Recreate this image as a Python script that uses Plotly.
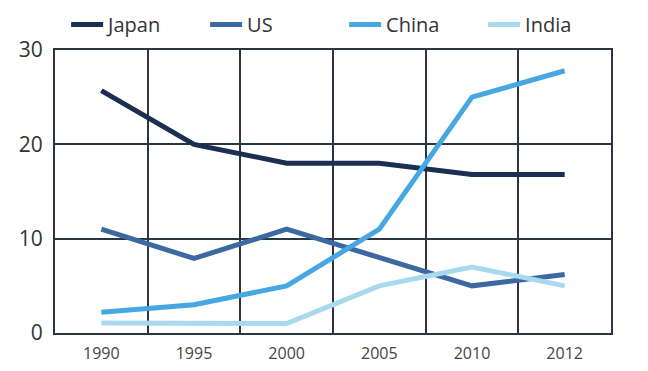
import plotly.graph_objects as go

years = ["1990", "1995", "2000", "2005", "2010", "2012"]
japan = [25.7, 20, 18, 18, 16.8, 16.8]
us = [11, 7.9, 11, 8, 5, 6.2]
china = [2.2, 3, 5, 11, 25, 27.8]
india = [1.05, 1, 1, 5, 7, 5]

series = [("Japan", japan, "#1b2f52"), ("US", us, "#3a6aa0"),
          ("China", china, "#47a7e2"), ("India", india, "#a9d9ee")]

fig = go.Figure()
for name, vals, col in series:
    fig.add_trace(go.Scatter(x=years, y=vals, name=name, mode="lines",
                             line=dict(color=col, width=5)))

gridc = "#2b3642"
# page body has an 8px default margin, so the figure is drawn 8px right/down
fig.update_layout(
    width=640, height=363,
    margin=dict(l=47, r=37, t=42, b=38, autoexpand=False),
    paper_bgcolor="white", plot_bgcolor="white",
    font=dict(family="Open Sans", color="#333333"),
    showlegend=True,
    legend=dict(orientation="h", x=0.02, xanchor="left", y=1.09, yanchor="middle",
                font=dict(size=20, color="#333333"), itemwidth=32,
                entrywidth=92, entrywidthmode="pixels", traceorder="normal",
                bgcolor="rgba(0,0,0,0)"),
    xaxis=dict(type="category", range=[-0.5, 5.5], tickson="boundaries",
               showgrid=True, gridcolor=gridc, gridwidth=1.5,
               showline=True, linecolor=gridc, linewidth=2, mirror=True,
               ticks="", ticklabelstandoff=5,
               tickfont=dict(size=16, color="#444444"), zeroline=False),
    yaxis=dict(range=[0, 30], tickvals=[0, 10, 20, 30], showgrid=True,
               gridcolor=gridc, gridwidth=1.5, showline=True, linecolor=gridc,
               linewidth=2, mirror=True, ticks="", ticklabelstandoff=6,
               tickfont=dict(size=21, color="#333333"), zeroline=False),
)
fig.write_html("out.html")
